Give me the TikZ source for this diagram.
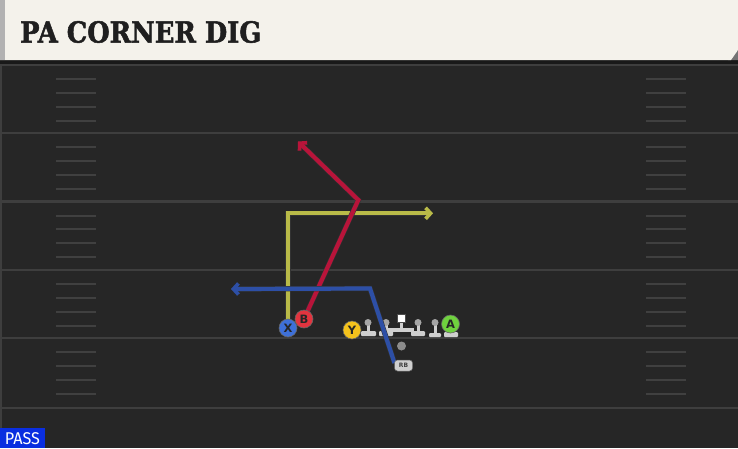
\documentclass[tikz,border=0pt]{standalone}
\usepackage{fontspec}
\usetikzlibrary{arrows.meta}
\newfontfamily\titlefont[BoldFeatures={FakeBold=1.8}]{DejaVu Serif}
\newfontfamily\labelfont{DejaVu Sans}
\newfontfamily\passfont{Fira Sans}
\definecolor{fieldbg}{HTML}{262626}
\definecolor{yardline}{HTML}{3E3E3E}
\definecolor{hashc}{HTML}{404040}
\definecolor{headerbg}{HTML}{F4F2EB}
\definecolor{routeY}{HTML}{B9BA48}
\definecolor{routeR}{HTML}{B8143A}
\definecolor{routeB}{HTML}{2D4FA6}
\definecolor{plX}{HTML}{3E70D8}
\definecolor{plB}{HTML}{E2343F}
\definecolor{plY}{HTML}{F4C21C}
\definecolor{plA}{HTML}{6FD23E}
\definecolor{olbody}{HTML}{CFCFCF}
\definecolor{olhead}{HTML}{A6A6A6}
\definecolor{passblue}{HTML}{0A2EE0}
\tikzset{
  route/.style={line width=4.2pt, line join=miter, preaction={draw=black!80, line width=5.2pt}},
  tip/.style={-{Straight Barb[length=5pt,width=11pt,line width=3.6pt]}},
  player/.style={circle, draw=black!60, line width=0.6pt, minimum size=18pt, inner sep=0pt,
     font=\labelfont\bfseries\fontsize{11.5}{11.5}\selectfont, text=black!85},
  olhd/.style={circle, fill=olhead, minimum size=7pt, inner sep=0pt},
}
\begin{document}
\begin{tikzpicture}[x=1pt,y=-1pt]
\useasboundingbox (0,0) rectangle (738,448);
% field
\fill[fieldbg] (0,0) rectangle (738,448);
\fill[black!90] (0,58) rectangle (738,65);
\foreach \yy in {65,133,201.5,270,338.3,408}{
  \draw[yardline, line width=2.2pt] (0,\yy) -- (738,\yy);
  \ifdim\yy pt<400pt
  \foreach \o in {14,27.5,41.5,55.5}{
    \draw[hashc, line width=2pt] (56,\yy+\o) -- (96,\yy+\o);
    \draw[hashc, line width=2pt] (646,\yy+\o) -- (686,\yy+\o);
  }
  \fi
}
\draw[yardline, line width=1.5pt] (1,65) -- (1,448);
% header
\fill[black!55] (728,60) -- (738,50) -- (738,60) -- cycle;
\fill[headerbg] (0,0) -- (738,0) -- (738,50) -- (731,60) -- (0,60) -- cycle;
\fill[black!30] (0,0) rectangle (5,60);
\node[anchor=west, inner sep=0pt, font=\titlefont\bfseries\fontsize{29}{29}\selectfont, text=black!88,
  xscale=0.89] (title) at (20,32) {PA CORNER DIG};
% pass label
\fill[passblue] (0,428) rectangle (45,448);
\node[anchor=center, inner sep=0pt, text=white, font=\passfont\fontsize{17}{17}\selectfont, xscale=0.95] (pass) at (22.5,438.5) {PASS};
% offensive line
\foreach \hx in {368,386,418,435}{
  \fill[olbody] (\hx-1.5,323) rectangle (\hx+1.5,333);
}
\fill[olbody, rounded corners=1pt] (361,331) rectangle (376,336);
\fill[olbody, rounded corners=1pt] (379,331) rectangle (393,336);
\fill[olbody, rounded corners=1pt] (411,331) rectangle (425,336);
\fill[olbody, rounded corners=1pt] (429,333) rectangle (441,337);
\fill[olbody] (399.5,321) rectangle (402.5,330);
\fill[olbody] (388,327.5) rectangle (414,331.5);
\fill[olbody, rounded corners=1pt] (444,332) rectangle (458,337);
\foreach \hx [count=\i] in {368,386,418,435}{
  \node[olhd] (ol\i) at (\hx,322.5) {};
}
\node[draw=black!70, fill=white, minimum size=8pt, inner sep=0pt, line width=0.4pt] (center) at (401,318) {};
\node[circle, fill=black!45, minimum size=9pt, inner sep=0pt] (qb) at (401.5,346) {};
% coordinates of routes
\coordinate (yturn) at (288,213.3);
\coordinate (yend) at (433,213.3);
\coordinate (rturn) at (358.3,200);
\coordinate (rend) at (298,141.5);
\coordinate (bstart) at (394.5,363);
\coordinate (bturn) at (370,288.5);
\coordinate (bend) at (231,289);
% players (positions)
\coordinate (Xp) at (288,328);
\coordinate (Bp) at (304,319);
% routes
\draw[route, routeY, tip] (Xp) -- (yturn) -- (yend);
\draw[route, routeR, tip] (Bp) -- (rturn) -- (rend);
\draw[route, routeB, tip] (bstart) -- (bturn) -- (bend);
% players
\node[player, fill=plX] (X) at (Xp) {X};
\node[player, fill=plB] (B) at (Bp) {B};
\node[player, fill=plY] (Y) at (352,330) {Y};
\node[player, fill=plA] (A) at (450.5,324) {A};
\node[draw=black!60, fill=olbody, rounded corners=3pt, minimum width=18pt, minimum height=11pt,
  inner sep=0pt, line width=0.5pt, font=\labelfont\bfseries\fontsize{6}{6}\selectfont, text=black!75] (RB) at (403.5,365.5) {RB};
\end{tikzpicture}
\end{document}
